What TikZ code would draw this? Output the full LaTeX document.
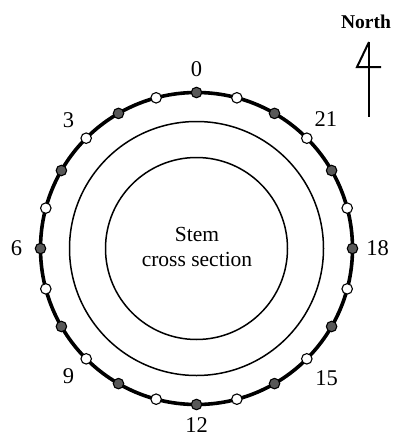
\documentclass[tikz,border=0pt]{standalone}
\usepackage{fontspec}
\setmainfont{Liberation Serif}
\definecolor{dotgray}{RGB}{88,88,88}
\begin{document}
\begin{tikzpicture}[x=1pt,y=-1pt,
  ring/.style={line width=1.5pt},
  rim/.style={line width=3.6pt},
  fdot/.style={circle,draw=black,line width=1.1pt,fill=dotgray,minimum size=10.5pt,inner sep=0pt},
  odot/.style={circle,draw=black,line width=1.1pt,fill=white,minimum size=10.5pt,inner sep=0pt},
  lab/.style={font=\fontsize{22.5}{25}\selectfont,inner sep=0pt},
  txt/.style={font=\fontsize{21.5}{25}\selectfont,inner sep=0pt},
  arrowline/.style={line width=2pt,line join=miter}
  ]
\useasboundingbox (0,0) rectangle (392,442);
\coordinate (c) at (196.5,248.5);
% circles
\draw[ring] (c) circle[radius=91];
\draw[ring] (c) circle[radius=127];
\draw[rim] (c) circle[radius=156];
% dots
\foreach \k in {0,2,...,22}{
  \node[fdot] (d\k) at ({196.5+156*sin(15*\k)},{248.5-156*cos(15*\k)}) {};
}
\foreach \k in {1,3,...,23}{
  \node[odot] (d\k) at ({196.5+156*sin(15*\k)},{248.5-156*cos(15*\k)}) {};
}
% hour labels
\foreach \h/\r in {0/179,3/181,6/180,9/181,12/177,15/184,18/181,21/183}{
  \node[lab] (h\h) at ({196.5-\r*sin(15*\h)},{248.5-\r*cos(15*\h)}) {\h};
}
% centre text
\node[txt,anchor=base] (stem) at (197,241) {Stem};
\node[txt,anchor=base] (cross) at (197,266) {cross section};
% north arrow
\node[font=\fontsize{19.5}{22}\selectfont\bfseries,inner sep=0pt] (north) at (366,22) {North};
\coordinate (nt) at (369,42);
\coordinate (nb) at (369,117);
\coordinate (nl) at (357,67);
\coordinate (nr) at (381,67);
\draw[arrowline] (nt) -- (nb);
\draw[arrowline] (nt) -- (nl) -- (nr);
\end{tikzpicture}
\end{document}
